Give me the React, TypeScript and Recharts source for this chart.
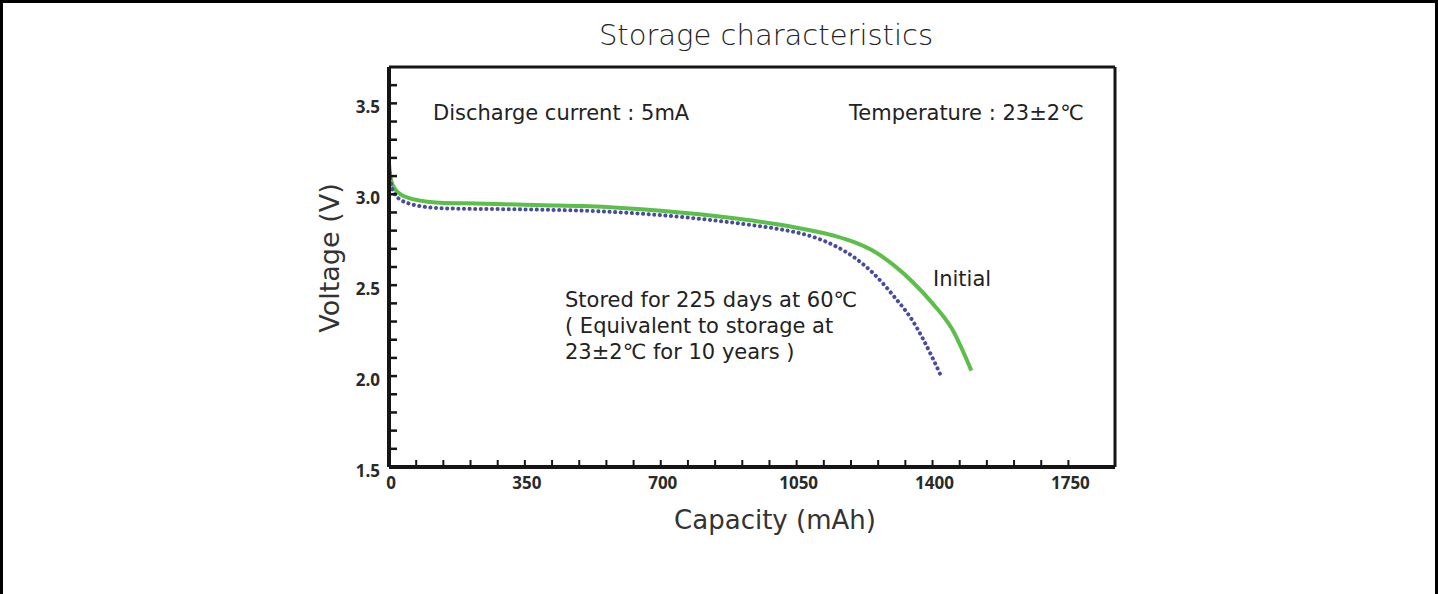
import { LineChart, Line, XAxis, YAxis } from "recharts";

// Initial (fresh) cell discharge curve
const initialCap = [0, 5, 15, 30, 50, 80, 120, 200, 300, 400, 500, 600, 700, 800, 900, 1000, 1100, 1150, 1200, 1250, 1300, 1350, 1400, 1450, 1500];
const initialVolt = [3.17, 3.08, 3.03, 3.0, 2.98, 2.965, 2.955, 2.95, 2.945, 2.94, 2.935, 2.925, 2.91, 2.89, 2.865, 2.835, 2.795, 2.77, 2.735, 2.685, 2.61, 2.515, 2.4, 2.26, 2.03];

// After storage 225 days at 60°C
const storedCap = [0, 5, 15, 30, 50, 80, 120, 200, 300, 400, 500, 600, 700, 800, 900, 1000, 1050, 1100, 1150, 1200, 1250, 1300, 1350, 1400, 1422];
const storedVolt = [3.15, 3.06, 3.0, 2.97, 2.95, 2.935, 2.925, 2.92, 2.918, 2.915, 2.91, 2.9, 2.885, 2.865, 2.84, 2.81, 2.79, 2.76, 2.715, 2.65, 2.56, 2.44, 2.3, 2.1, 2.0];

const xTicks = [0, 70, 140, 210, 280, 350, 420, 490, 560, 630, 700, 770, 840, 910, 980, 1050, 1120, 1190, 1260, 1330, 1400, 1470, 1540, 1610, 1680, 1750];
const xLabels = [0, 350, 700, 1050, 1400, 1750];
const yTicks = [1.5, 1.6, 1.7, 1.8, 1.9, 2.0, 2.1, 2.2, 2.3, 2.4, 2.5, 2.6, 2.7, 2.8, 2.9, 3.0, 3.1, 3.2, 3.3, 3.4, 3.5, 3.6];
const yLabels = [1.5, 2.0, 2.5, 3.0, 3.5];

const initialData = initialCap.map((c, i) => ({ cap: c, v: initialVolt[i] }));
const storedData = storedCap.map((c, i) => ({ cap: c, v: storedVolt[i] }));

const axisColor = "#151515";
const tickFont = { fontFamily: "'Open Sans', sans-serif", fontWeight: 700, fontSize: 17, fill: "#2a2a2a" };
const textFont = "'DejaVu Sans', sans-serif";

const YTick = (props: any) => {
  const { x, y, payload } = props;
  const v = payload.value;
  const major = yLabels.includes(v);
  return (
    <g>
      {v !== 1.5 && <line x1={x} x2={x + 8} y1={y} y2={y} stroke={axisColor} strokeWidth={2.5} />}
      {major && (
        <text x={x - 9} y={y + 3} textAnchor="end" dominantBaseline="central" {...tickFont}>
          {v.toFixed(1)}
        </text>
      )}
    </g>
  );
};

const XTick = (props: any) => {
  const { x, y, payload } = props;
  const v = payload.value;
  return (
    <g>
      {v !== 0 && <line x1={x} x2={x} y1={y} y2={y - 7} stroke={axisColor} strokeWidth={2} />}
      {xLabels.includes(v) && (
        <text x={x + 2} y={y + 15} textAnchor="middle" dominantBaseline="central" {...tickFont}>
          {v}
        </text>
      )}
    </g>
  );
};

const abs = (left: number, top: number, size: number, extra: any = {}) => ({
  position: "absolute" as const,
  left,
  top,
  fontSize: size,
  fontFamily: textFont,
  color: "#222",
  whiteSpace: "nowrap" as const,
  lineHeight: "26px",
  ...extra,
});

export default function App() {
  return (
    <div style={{ position: "absolute", left: 0, top: 0, width: 1438, height: 594, background: "#fff" }}>
      <div
        style={{
          position: "absolute",
          left: 0,
          top: 0,
          width: 1438,
          height: 594,
          boxSizing: "border-box",
          borderLeft: "3px solid #000",
          borderTop: "3px solid #000",
          borderRight: "3px solid #000",
        }}
      />
      <div style={{ position: "absolute", left: 0, top: 0 }}>
        <LineChart width={1438} height={594} margin={{ top: 57, right: 313, bottom: 87, left: 329 }}>
          <XAxis
            dataKey="cap"
            type="number"
            domain={[0, 1870]}
            ticks={xTicks}
            interval={0}
            height={40}
            tickSize={0}
            tickMargin={0}
            tickLine={false}
            tick={<XTick />}
            axisLine={{ stroke: axisColor, strokeWidth: 4 }}
            allowDataOverflow
          />
          <XAxis
            xAxisId="top"
            orientation="top"
            type="number"
            domain={[0, 1870]}
            height={10}
            tick={false}
            tickLine={false}
            axisLine={{ stroke: axisColor, strokeWidth: 3 }}
          />
          <YAxis
            type="number"
            domain={[1.5, 3.7]}
            ticks={yTicks}
            interval={0}
            width={60}
            tickSize={0}
            tickMargin={0}
            tickLine={false}
            tick={<YTick />}
            axisLine={{ stroke: axisColor, strokeWidth: 4 }}
            allowDataOverflow
          />
          <YAxis
            yAxisId="right"
            orientation="right"
            type="number"
            domain={[1.5, 3.7]}
            width={10}
            tick={false}
            tickLine={false}
            axisLine={{ stroke: axisColor, strokeWidth: 3 }}
          />
          <Line
            data={initialData}
            dataKey="v"
            type="monotone"
            stroke="#5cbf4a"
            strokeWidth={4}
            dot={false}
            isAnimationActive={false}
          />
          <Line
            data={storedData}
            dataKey="v"
            type="monotone"
            stroke="#4a4aa0"
            strokeWidth={4}
            strokeDasharray="0.1 5.5"
            strokeLinecap="round"
            dot={false}
            isAnimationActive={false}
          />
        </LineChart>
      </div>

      <div style={abs(0, 17, 29, { width: 1532, textAlign: "center", lineHeight: "36px", fontWeight: 200, color: "#222" })}>
        Storage characteristics
      </div>
      <div
        style={abs(330 - 100, 258 - 17, 27, {
          width: 200,
          textAlign: "center",
          lineHeight: "34px",
          transform: "rotate(-90deg)",
          color: "#333",
        })}
      >
        Voltage (V)
      </div>
      <div style={abs(775 - 150, 520 - 17, 26, { width: 300, textAlign: "center", lineHeight: "34px", color: "#333" })}>
        Capacity (mAh)
      </div>

      <div style={abs(433, 100, 21)}>Discharge current : 5mA</div>
      <div style={abs(849, 100, 21)}>Temperature : 23±2℃</div>
      <div style={abs(933, 266, 21)}>Initial</div>
      <div style={abs(565, 287, 21)}>
        Stored for 225 days at 60℃
        <br />( Equivalent to storage at
        <br />
        23±2℃ for 10 years )
      </div>
    </div>
  );
}
